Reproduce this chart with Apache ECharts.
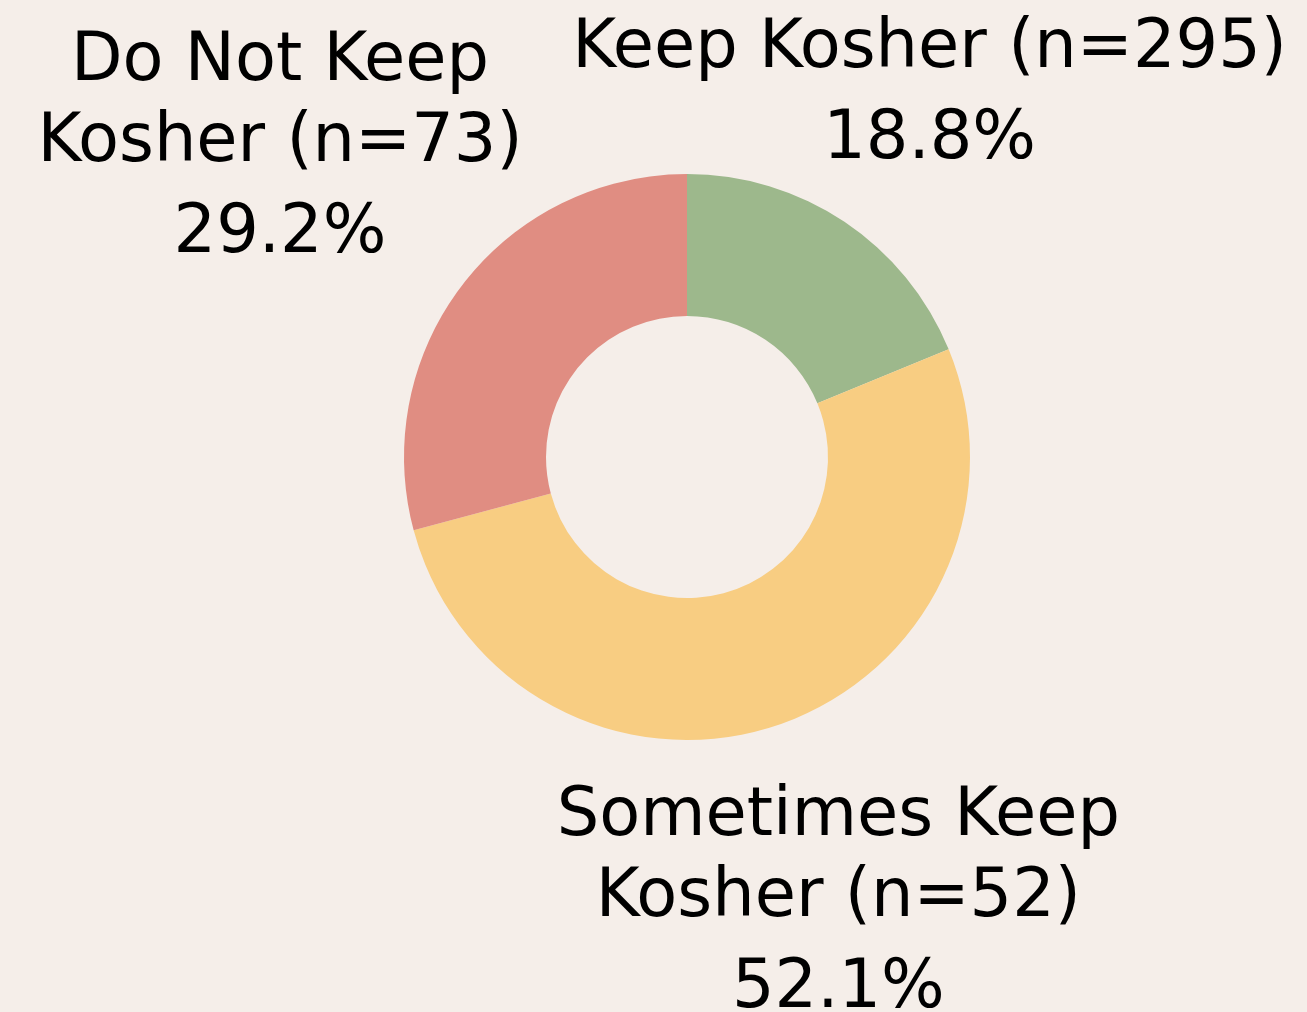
<!DOCTYPE html>
<html>
<head>
<meta charset="utf-8">
<script src="https://cdn.jsdelivr.net/npm/echarts@6/dist/echarts.min.js"></script>
<style>
html,body{margin:0;padding:0;background:#F5EEE9;}
#chart{width:1307px;height:1012px;}
</style>
</head>
<body>
<div id="chart"></div>
<script>
// ---- data ----
const categories = ['Keep Kosher', 'Sometimes Keep Kosher', 'Do Not Keep Kosher'];
const labelLines = [
  ['Keep Kosher (n=295)'],
  ['Sometimes Keep', 'Kosher (n=52)'],
  ['Do Not Keep', 'Kosher (n=73)']
];
const percents = [18.8, 52.1, 29.2];
const colors = ['#9DB88C', '#F8CD82', '#E08D82'];

// ---- layout (not data) ----
const CX = 687, CY = 457, R_IN = 141, R_OUT = 283;
const labelDist = [436, 472, 513];
const labelShiftY = [5, 5, 9];

const total = percents.reduce((a, b) => a + b, 0);
function midAngle(i) {
  let before = 0;
  for (let k = 0; k < i; k++) before += percents[k];
  return (before + percents[i] / 2) / total * 2 * Math.PI;
}

const chart = echarts.init(document.getElementById('chart'));
chart.setOption({
  backgroundColor: '#F5EEE9',
  animation: false,
  textStyle: { fontFamily: 'DejaVu Sans' },
  series: [{
    type: 'pie',
    center: [CX, CY],
    radius: [R_IN, R_OUT],
    startAngle: 90,
    clockwise: true,
    avoidLabelOverlap: false,
    silent: true,
    data: categories.map((c, i) => ({
      name: c,
      value: percents[i],
      itemStyle: { color: colors[i] }
    })),
    label: {
      show: true,
      position: 'outside',
      color: '#000',
      fontFamily: 'DejaVu Sans',
      fontSize: 67,
      align: 'center',
      formatter: function (p) {
        const i = p.dataIndex;
        return labelLines[i].map(s => '{a|' + s + '}').join('\n') + '\n{b|' + percents[i].toFixed(1) + '%}';
      },
      rich: {
        a: { fontSize: 67, lineHeight: 81, color: '#000', fontFamily: 'DejaVu Sans', align: 'center' },
        b: { fontSize: 67, lineHeight: 101, color: '#000', fontFamily: 'DejaVu Sans', align: 'center' }
      }
    },
    labelLine: { show: false },
    labelLayout: function (params) {
      const i = params.dataIndex;
      const a = midAngle(i);
      const d = labelDist[i];
      return {
        x: CX + d * Math.sin(a),
        y: CY - d * Math.cos(a) + labelShiftY[i],
        align: 'center',
        verticalAlign: 'middle'
      };
    }
  }]
});
</script>
</body>
</html>
